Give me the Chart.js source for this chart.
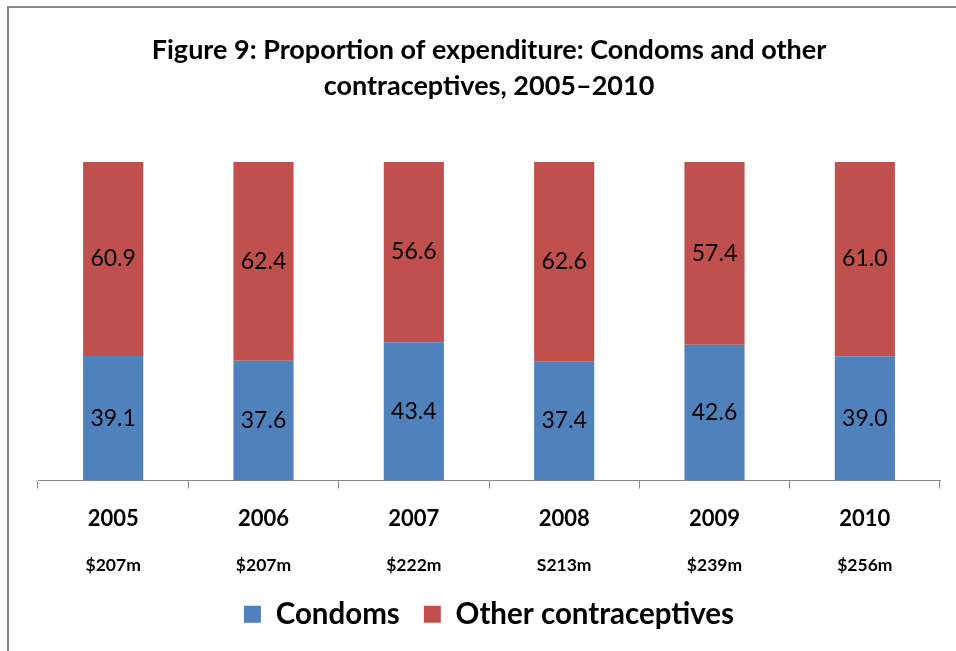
<!DOCTYPE html>
<html>
<head>
<meta charset="utf-8">
<script src="https://cdn.jsdelivr.net/npm/chart.js@4.4.1/dist/chart.umd.min.js"></script>
<style>
  html, body { margin: 0; padding: 0; background: #fff; }
  #wrap { position: relative; width: 956px; height: 651px; }
  #frame { position: absolute; left: 7px; top: 6px; right: 0; bottom: 0;
           border-left: 2px solid #888; border-top: 2px solid #888; pointer-events: none; }
  canvas { position: absolute; left: 0; top: 0; }
</style>
</head>
<body>
<div id="wrap">
  <canvas id="chart" width="956" height="651"></canvas>
  <div id="frame"></div>
</div>
<script>
// Share of contraceptive expenditure by year (%)
const years = ['2005', '2006', '2007', '2008', '2009', '2010'];
const condoms = [39.1, 37.6, 43.4, 37.4, 42.6, 39.0];
const otherContraceptives = [60.9, 62.4, 56.6, 62.6, 57.4, 61.0];
// Total expenditure shown under each year
const totals = ['$207m', '$207m', '$222m', 'S213m', '$239m', '$256m'];

const FONT = 'Lato, "Open Sans", sans-serif';

// Value printed in the middle of every bar segment
const segmentLabels = {
  id: 'segmentLabels',
  afterDatasetsDraw(chart) {
    const ctx = chart.ctx;
    ctx.save();
    ctx.font = '23px ' + FONT;
    ctx.fillStyle = '#000';
    ctx.textAlign = 'center';
    ctx.textBaseline = 'middle';
    chart.data.datasets.forEach((ds, di) => {
      const meta = chart.getDatasetMeta(di);
      meta.data.forEach((el, i) => {
        const y = (el.y + el.base) / 2;
        ctx.fillText(ds.data[i].toFixed(1), el.x, y);
      });
    });
    ctx.restore();
  }
};

// Annual totals beneath the year labels
const totalLabels = {
  id: 'totalLabels',
  afterDraw(chart) {
    const ctx = chart.ctx;
    const xs = chart.scales.x;
    ctx.save();
    ctx.font = 'bold 17.5px ' + FONT;
    ctx.fillStyle = '#000';
    ctx.textAlign = 'center';
    ctx.textBaseline = 'middle';
    totals.forEach((t, i) => {
      ctx.fillText(t, xs.getPixelForValue(i), xs.top + 85);
    });
    ctx.restore();
  }
};

new Chart(document.getElementById('chart'), {
  type: 'bar',
  data: {
    labels: years,
    datasets: [
      { label: 'Condoms', data: condoms, backgroundColor: '#4F81BD' },
      { label: 'Other contraceptives', data: otherContraceptives, backgroundColor: '#C0504D' }
    ]
  },
  options: {
    responsive: false,
    animation: false,
    events: [],
    layout: { padding: { left: 38, right: 16, top: 0, bottom: 12 } },
    datasets: { bar: { categoryPercentage: 1, barPercentage: 0.4 } },
    scales: {
      x: {
        stacked: true,
        grid: { display: true, drawOnChartArea: false, drawTicks: true, tickLength: 8, color: '#888', offset: true },
        border: { display: true, color: '#888', width: 1 },
        ticks: { color: '#000', padding: 17, font: { family: FONT, size: 22, weight: 'bold' } },
        afterFit(scale) { scale.height = 95; }
      },
      y: {
        stacked: true,
        display: false,
        min: 0,
        max: 100
      }
    },
    plugins: {
      title: {
        display: true,
        text: ['Figure 9: Proportion of expenditure: Condoms and other', 'contraceptives, 2005\u20132010'],
        color: '#000',
        font: { family: FONT, size: 27, weight: 'bold', lineHeight: 1.35 },
        padding: { top: 32, bottom: 57 }
      },
      legend: {
        position: 'bottom',
        labels: {
          color: '#000',
          boxWidth: 17,
          boxHeight: 17,
          padding: 24,
          font: { family: FONT, size: 29.5, weight: 'bold' }
        }
      },
      tooltip: { enabled: false }
    }
  },
  plugins: [segmentLabels, totalLabels]
});
</script>
</body>
</html>
